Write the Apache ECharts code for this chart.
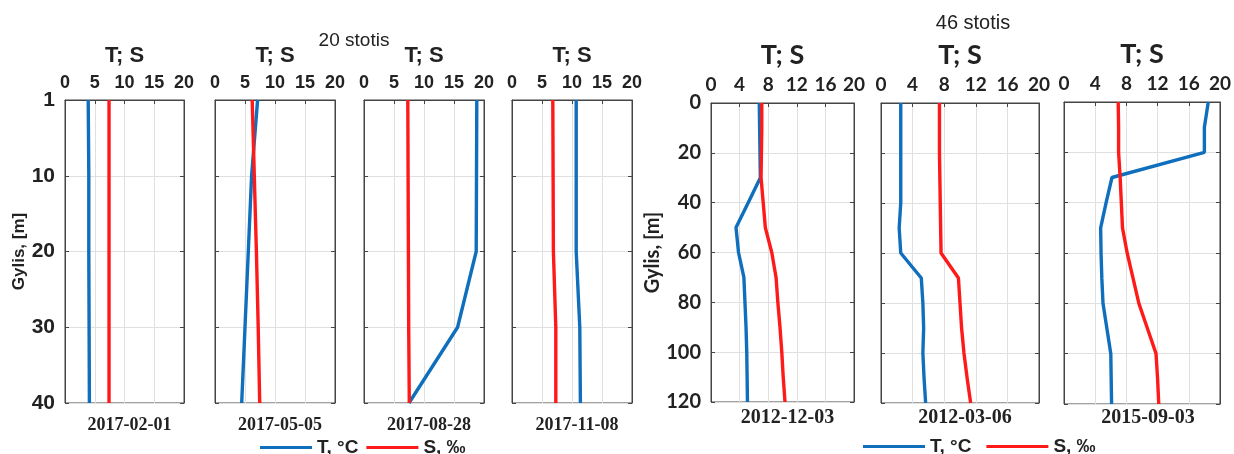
<!DOCTYPE html>
<html>
<head>
<meta charset="utf-8">
<script src="https://cdn.jsdelivr.net/npm/echarts@6/dist/echarts.min.js"></script>
<style>html,body{margin:0;padding:0;background:#fff}#c{width:1234px;height:454px}</style>
</head>
<body>
<div id="c"></div>
<script>
// ---- data ----
const depthsL = [0, 10, 20, 30, 40];
const depthTickLabelsL = ['1', '10', '20', '30', '40'];
const depthsR = [0, 10, 20, 30, 40, 50, 60, 70, 80, 90, 100, 110, 120];
const depthTickLabelsR = ['0', '20', '40', '60', '80', '100', '120'];
const xTickLabelsL = ['0', '5', '10', '15', '20'];
const xTickLabelsR = ['0', '4', '8', '12', '16', '20'];

const dates = ['2017-02-01', '2017-05-05', '2017-08-28', '2017-11-08', '2012-12-03', '2012-03-06', '2015-09-03'];
const stationTitles = ['20 stotis', '46 stotis'];
const seriesNames = ['T, °C', 'S, ‰'];

const tempP1 = [3.9, 4.0, 4.0, 4.05, 4.1];
const salP1  = [7.4, 7.4, 7.4, 7.4, 7.4];
const tempP2 = [7.1, 6.1, 5.55, 5.0, 4.45];
const salP2  = [6.2, 6.55, 6.9, 7.2, 7.45];
const tempP3 = [18.8, 18.75, 18.7, 15.6, 7.5];
const salP3  = [7.3, 7.35, 7.4, 7.45, 7.55];
const tempP4 = [10.7, 10.7, 10.7, 11.3, 11.4];
const salP4  = [6.8, 6.85, 6.9, 7.3, 7.3];

const tempP5 = [6.75, 6.8, 6.85, 6.9, 5.2, 3.5, 3.85, 4.6, 4.75, 4.9, 5.0, 5.05, 5.1];
const salP5  = [7.1, 7.1, 7.05, 7.0, 7.3, 7.6, 8.5, 9.1, 9.35, 9.65, 9.9, 10.1, 10.35];
const tempP6 = [2.5, 2.5, 2.5, 2.5, 2.5, 2.3, 2.5, 5.1, 5.3, 5.4, 5.3, 5.45, 5.65];
const salP6  = [7.4, 7.4, 7.4, 7.45, 7.5, 7.55, 7.6, 9.8, 10.0, 10.2, 10.5, 10.9, 11.35];
const tempP7 = [18.5, 18.0, 18.0, 6.15, 5.4, 4.7, 4.75, 4.85, 5.0, 5.5, 6.0, 6.05, 6.1];
const salP7  = [6.95, 7.0, 7.0, 7.2, 7.35, 7.5, 8.1, 8.85, 9.6, 10.7, 11.8, 12.0, 12.15];

// ---- layout / styles ----
const fontL = '"Liberation Sans", Arial, sans-serif';
const fontR = 'Lato, "Liberation Sans", sans-serif';
const fontSerif = '"Liberation Serif", "Times New Roman", serif';
const blue = '#0f6fbd';
const red = '#ff1a1a';
const txt = '#222';
const axisCol = '#444';

const panels = [
  {g: 'L', left: 65,   top: 100, width: 119, height: 303, T: tempP1, S: salP1, d: depthsL},
  {g: 'L', left: 215,  top: 100, width: 120, height: 303, T: tempP2, S: salP2, d: depthsL},
  {g: 'L', left: 364,  top: 100, width: 120, height: 303, T: tempP3, S: salP3, d: depthsL},
  {g: 'L', left: 512,  top: 100, width: 120, height: 303, T: tempP4, S: salP4, d: depthsL},
  {g: 'R', left: 711,  top: 103, width: 143, height: 299, T: tempP5, S: salP5, d: depthsR},
  {g: 'R', left: 881,  top: 103, width: 158, height: 300, T: tempP6, S: salP6, d: depthsR},
  {g: 'R', left: 1064, top: 102, width: 158, height: 302, T: tempP7, S: salP7, d: depthsR}
];

const grids = [], xAxes = [], yAxes = [], yAxesRight = [], series = [], titles = [];

panels.forEach((p, i) => {
  const L = p.g === 'L';
  const xLabels = L ? xTickLabelsL : xTickLabelsR;
  const yLabels = L ? depthTickLabelsL : depthTickLabelsR;
  const xInt = 20 / (xLabels.length - 1);
  const yMax = L ? 40 : 120;
  const yInt = yMax / (yLabels.length - 1);
  const firstInGroup = (i === 0 || i === 4);

  grids.push({left: p.left, top: p.top, width: p.width, height: p.height,
    show: true, borderColor: axisCol, borderWidth: 1, backgroundColor: 'transparent'});

  xAxes.push({
    gridIndex: i, type: 'value', position: 'top', min: 0, max: 20, interval: xInt,
    axisLine: {show: true, lineStyle: {color: axisCol, width: 1}},
    axisTick: {show: true, inside: true, length: 4, lineStyle: {color: axisCol}},
    axisLabel: {
      margin: L ? 8 : 9, color: txt, fontWeight: 'bold',
      fontSize: L ? 18 : 19, fontFamily: L ? fontL : fontR,
      showMinLabel: true, showMaxLabel: true,
      formatter: (v) => xLabels[Math.round(v / xInt)]
    },
    splitLine: {show: true, lineStyle: {color: '#e0e0e0', width: 1}},
    name: 'T; S', nameLocation: 'middle', nameGap: L ? 33 : 34,
    nameTextStyle: {color: txt, fontWeight: 'bold', fontSize: L ? 22 : 27, fontFamily: L ? fontL : fontR}
  });

  yAxes.push({
    gridIndex: i, type: 'value', inverse: true, min: 0, max: yMax, interval: yInt,
    axisLine: {show: true, lineStyle: {color: axisCol, width: 1}},
    axisTick: {show: true, inside: true, length: 4, lineStyle: {color: axisCol}},
    axisLabel: {
      show: firstInGroup, margin: 10, color: txt, fontWeight: 'bold',
      fontSize: L ? 21 : 20, fontFamily: L ? fontL : fontR,
      showMinLabel: true, showMaxLabel: true,
      formatter: (v) => yLabels[Math.round(v / yInt)]
    },
    splitLine: {show: true, lineStyle: {color: '#e0e0e0', width: 1}},
    name: firstInGroup ? 'Gylis, [m]' : '', nameLocation: 'middle', nameRotate: 90,
    nameGap: L ? 33 : 47,
    nameTextStyle: {color: txt, fontWeight: 'bold', fontSize: L ? 17 : 20, fontFamily: L ? fontL : fontR}
  });

  yAxesRight.push({
    gridIndex: i, type: 'value', inverse: true, min: 0, max: yMax, interval: yInt, position: 'right',
    axisLine: {show: true, lineStyle: {color: axisCol, width: 1}},
    axisTick: {show: true, inside: true, length: 4, lineStyle: {color: axisCol}},
    axisLabel: {show: false}, splitLine: {show: false}
  });

  series.push({
    name: seriesNames[0], type: 'line', xAxisIndex: i, yAxisIndex: i,
    data: p.d.map((dep, k) => [p.T[k], dep]),
    showSymbol: false, symbol: 'none', lineStyle: {color: blue, width: 3.4}, itemStyle: {color: blue},
    z: 3, silent: true, animation: false
  });
  series.push({
    name: seriesNames[1], type: 'line', xAxisIndex: i, yAxisIndex: i,
    data: p.d.map((dep, k) => [p.S[k], dep]),
    showSymbol: false, symbol: 'none', lineStyle: {color: red, width: 3.4}, itemStyle: {color: red},
    z: 4, silent: true, animation: false
  });

  titles.push({
    text: dates[i], left: p.left + p.width / 2, top: L ? 411 : 403, textAlign: 'center',
    textStyle: {fontFamily: fontSerif, fontWeight: 'bold', fontSize: L ? 18 : 20, color: txt}
  });
});

titles.push({text: stationTitles[0], left: 349, top: 26, textAlign: 'center',
  textStyle: {fontFamily: fontL, fontWeight: 'normal', fontSize: 19, color: txt}});
titles.push({text: stationTitles[1], left: 968, top: 8, textAlign: 'center',
  textStyle: {fontFamily: fontL, fontWeight: 'normal', fontSize: 20, color: txt}});

const legendBase = {
  data: seriesNames, icon: 'rect', itemHeight: 3, selectedMode: false,
  textStyle: {fontFamily: fontL, fontWeight: 'bold', fontSize: 19, color: txt}, padding: 0
};

const option = {
  animation: false,
  backgroundColor: '#fff',
  title: titles,
  legend: [
    Object.assign({}, legendBase, {left: 260, top: 438, itemWidth: 52, itemGap: 8}),
    Object.assign({}, legendBase, {left: 863, top: 437, itemWidth: 62, itemGap: 15})
  ],
  grid: grids,
  xAxis: xAxes,
  yAxis: yAxes.concat(yAxesRight),
  series: series
};

const chart = echarts.init(document.getElementById('c'), null, {renderer: 'canvas'});
chart.setOption(option);
</script>
</body>
</html>
